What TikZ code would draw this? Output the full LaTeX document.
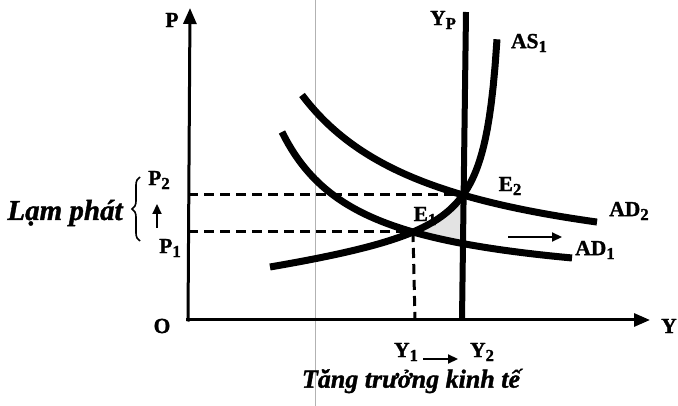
\documentclass[tikz,border=0pt]{standalone}
\usepackage{fontspec}
\setmainfont{Liberation Serif}[BoldFeatures={FakeBold=1.3},BoldItalicFeatures={FakeBold=1.3}]
\usetikzlibrary{arrows.meta,decorations.pathreplacing}
\newcommand\lsub[1]{\raisebox{-0.4ex}{\scalebox{0.78}{#1}}}
\begin{document}
\begin{tikzpicture}[x=1pt,y=-1pt,
  curve/.style={line width=7pt},
  axisline/.style={line width=3pt,-{Triangle[length=16pt,width=13pt]}},
  dashline/.style={line width=3pt,dash pattern=on 10pt off 6pt},
  smallarrow/.style={line width=2.2pt,-{Triangle[length=10pt,width=9pt]}},
  lbl/.style={font=\bfseries\fontsize{21.5}{21.5}\selectfont,inner sep=0pt},
  ital/.style={font=\bfseries\itshape\fontsize{26}{26}\selectfont,inner sep=0pt}]
\useasboundingbox (0,0) rectangle (678,406);
% key points
\coordinate (E1) at (413,232);
\coordinate (E2) at (463,195);
\coordinate (xend) at (650,320);
\coordinate (ytop) at (190,8);
\coordinate (p1ax) at (188,232);
\coordinate (p2ax) at (188,195);
\coordinate (y1ax) at (415,320);
\coordinate (yptop) at (466,12);
\coordinate (ypbot) at (462,320);
% shaded area
\fill[gray!22] (E1) -- (437,219) -- (E2) -- (463,241) -- (500,248) -- (440,237) -- cycle;
% scan fold
\draw[gray!60,line width=0.4pt] (315,0) -- (315,406);
% dashed lines
\draw[dashline] (p2ax) -- (E2);
\draw[dashline] (p1ax) -- (E1);
\draw[dashline] (E1) -- (y1ax);
% axes
\draw[axisline] (186,320) -- (xend);
\draw[axisline] (188,321.5) -- (ytop);
% Yp
\draw[line width=6pt] (yptop) -- (ypbot);
% curves
\draw[curve] plot[domain=302:597,samples=90] (\x,{283.2-267.24/((\x-160)/100)});
\draw[curve] plot[domain=282:572,samples=90] (\x,{292.3-126.65/((\x-203)/100)});
\draw[curve] plot[domain=270:497,samples=120] (\x,{312.06-0.12289*\x-28.578/((510.5-\x)/100)});
% labels
\node[lbl] (P) at (172,20) {P};
\node[lbl] (Olbl) at (162,326) {O};
\node[lbl] (Ylbl) at (669,326) {Y};
\node[lbl] (YP) at (443,20) {Y\lsub{P}};
\node[lbl] (AS1) at (529,43) {AS\lsub{1}};
\node[lbl] (E2l) at (510,186) {E\lsub{2}};
\node[lbl] (E1l) at (425,216) {E\lsub{1}};
\node[lbl] (AD2) at (629,211) {AD\lsub{2}};
\node[lbl] (AD1) at (595,250) {AD\lsub{1}};
\coordinate (sa) at (508,237);
\coordinate (sb) at (562,237);
\draw[smallarrow] (sa) -- (sb);
\node[lbl] (Y1) at (406,352) {Y\lsub{1}};
\node[lbl] (Y2) at (482,352) {Y\lsub{2}};
\coordinate (ya) at (423,359);
\coordinate (yb) at (458,359);
\draw[smallarrow] (ya) -- (yb);
\node[ital] (growth) at (411,381) {Tăng trưởng kinh tế};
\node[ital,font=\bfseries\itshape\fontsize{29}{29}\selectfont] (infl) at (65,213) {Lạm phát};
\draw[line width=1.6pt,decorate,decoration={brace,amplitude=8pt}] (140,241) -- (140,177);
\node[lbl] (P2) at (159,180) {P\lsub{2}};
\node[lbl] (P1) at (170,248) {P\lsub{1}};
\draw[smallarrow] (157,228) -- (157,204);
\end{tikzpicture}
\end{document}
